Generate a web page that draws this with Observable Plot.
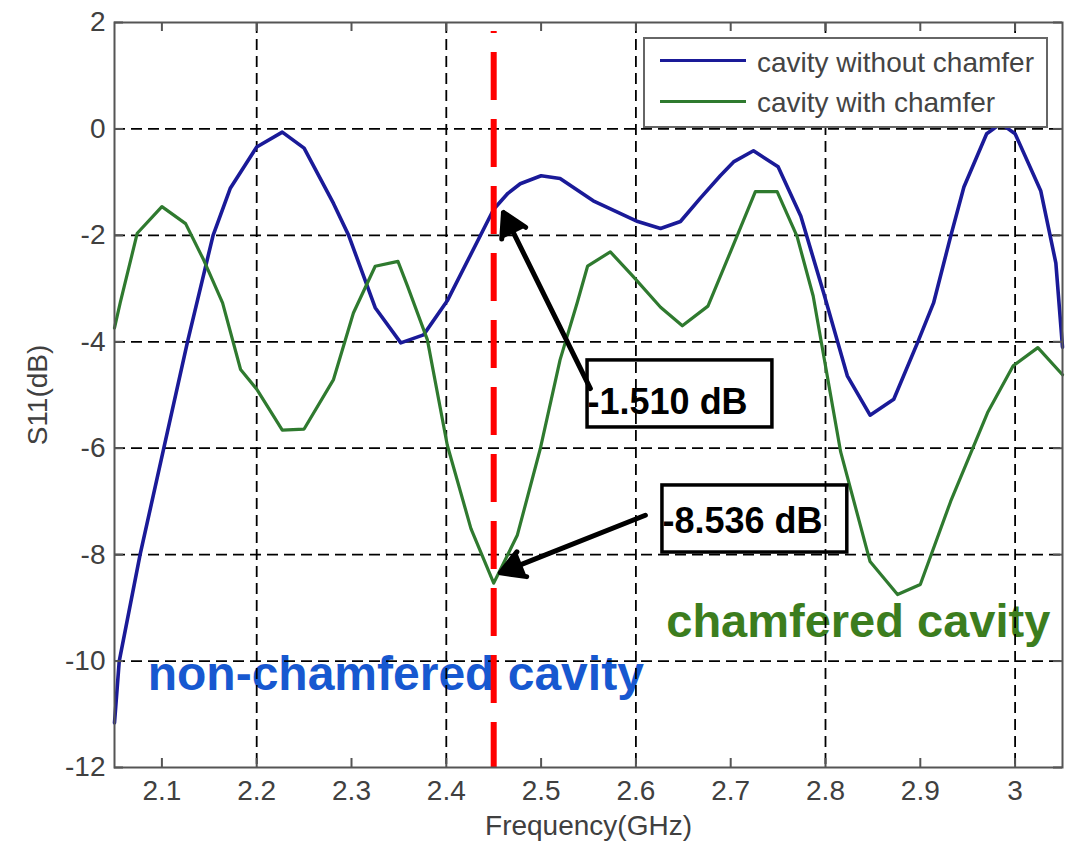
<!DOCTYPE html>
<html>
<head>
<meta charset="utf-8">
<script src="https://cdn.jsdelivr.net/npm/d3@7"></script>
<script src="https://cdn.jsdelivr.net/npm/@observablehq/plot@0.6"></script>
<style>
  body { margin: 0; background: #fff; }
  #wrap { position: relative; width: 1073px; height: 845px; }
  #legend { position: absolute; left: 643px; top: 37px; width: 401px; height: 87px;
    border: 2px solid #666; background: #fff;
    font-family: "Liberation Sans", Arial, sans-serif; font-size: 28px; color: #444; }
  #legend .sw { position: absolute; left: 15px; width: 86px; height: 3px; }
  #legend .lb { position: absolute; left: 112px; line-height: 28px; white-space: nowrap; }
</style>
</head>
<body>
<div id="wrap"></div>
<script>
// ---- data ----
const freqBlue = [2.050, 2.055, 2.077, 2.102, 2.127, 2.154, 2.172, 2.200, 2.227, 2.250, 2.281, 2.297, 2.325, 2.352, 2.376, 2.401, 2.450, 2.465, 2.478, 2.500, 2.520, 2.555, 2.602, 2.626, 2.647, 2.668, 2.689, 2.703, 2.724, 2.750, 2.774, 2.798, 2.823, 2.847, 2.872, 2.897, 2.914, 2.932, 2.946, 2.970, 2.985, 3.000, 3.027, 3.043, 3.050];
const s11Blue  = [-11.16, -10.0, -8.0, -6.0, -4.0, -2.0, -1.12, -0.34, -0.06, -0.36, -1.40, -2.00, -3.36, -4.02, -3.87, -3.23, -1.51, -1.21, -1.03, -0.88, -0.93, -1.35, -1.74, -1.87, -1.74, -1.30, -0.88, -0.62, -0.41, -0.71, -1.64, -3.08, -4.64, -5.38, -5.08, -4.02, -3.27, -2.02, -1.09, -0.09, 0.10, -0.09, -1.16, -2.52, -4.10];

const freqGreen = [2.050, 2.056, 2.074, 2.100, 2.125, 2.144, 2.164, 2.183, 2.200, 2.227, 2.250, 2.281, 2.302, 2.325, 2.349, 2.359, 2.380, 2.401, 2.426, 2.450, 2.475, 2.499, 2.520, 2.538, 2.549, 2.573, 2.597, 2.626, 2.649, 2.676, 2.700, 2.726, 2.749, 2.770, 2.787, 2.816, 2.847, 2.876, 2.900, 2.932, 2.971, 2.998, 3.024, 3.050];
const s11Green  = [-3.74, -3.27, -1.96, -1.46, -1.78, -2.46, -3.27, -4.52, -4.89, -5.66, -5.64, -4.71, -3.46, -2.58, -2.49, -2.95, -3.96, -5.94, -7.51, -8.536, -7.63, -6.02, -4.34, -3.27, -2.58, -2.31, -2.77, -3.35, -3.70, -3.33, -2.30, -1.18, -1.18, -2.02, -3.14, -6.07, -8.13, -8.75, -8.56, -7.00, -5.33, -4.45, -4.11, -4.62];

const seriesNames = ["cavity without chamfer", "cavity with chamfer"];
const seriesColors = ["#1a1a98", "#2f7a2f"];

const xTicks = [2.1, 2.2, 2.3, 2.4, 2.5, 2.6, 2.7, 2.8, 2.9, 3.0];
const yTicks = [2, 0, -2, -4, -6, -8, -10, -12];
const xGrid = [2.2, 2.4, 2.6, 2.8, 3.0];
const yGrid = [0, -2, -4, -6, -8, -10];
const markerFreq = [2.45];

// annotation callouts
const calloutText = ["-1.510 dB", "-8.536 dB"];
const calloutBoxF1 = [2.549, 2.628];
const calloutBoxF2 = [2.744, 2.823];
const calloutBoxV1 = [-4.35, -6.70];
const calloutBoxV2 = [-5.61, -7.96];
const calloutTextV = [-5.14, -7.38];
const arrowTailF = [2.552, 2.610];
const arrowTailV = [-4.88, -7.26];
const arrowTipF  = [2.4603, 2.457];
const arrowTipV  = [-1.57, -8.34];

const regionText = ["non-chamfered cavity", "chamfered cavity"];
const regionTextF = [2.085, 2.632];
const regionTextV = [-10.26, -9.26];
const regionColors = ["#1758d0", "#3c7d1e"];
const regionSizes = [48, 47];

// ---- build ----
const blue = freqBlue.map((f, i) => ({f, v: s11Blue[i]}));
const green = freqGreen.map((f, i) => ({f, v: s11Green[i]}));
const callouts = calloutText.map((t, i) => ({t, f1: calloutBoxF1[i], f2: calloutBoxF2[i], v1: calloutBoxV1[i], v2: calloutBoxV2[i], tv: calloutTextV[i], af1: arrowTailF[i], av1: arrowTailV[i], af2: arrowTipF[i], av2: arrowTipV[i]}));
const regions = regionText.map((t, i) => ({t, f: regionTextF[i], v: regionTextV[i], c: regionColors[i], s: regionSizes[i]}));

const W = 1073, H = 845, ml = 114, mr = 11, mt = 22, mb = 78;
const fw = W - ml - mr, fh = H - mt - mb;
const tick = 9;
const font = "Liberation Sans, Arial, Helvetica, sans-serif";
const fmtX = d => d === 3 ? "3" : d.toFixed(1);

const chart = Plot.plot({
  width: W, height: H,
  marginLeft: ml, marginRight: mr, marginTop: mt, marginBottom: mb,
  style: {fontFamily: font, fontSize: "28px", color: "#404040", background: "white", overflow: "visible"},
  x: {domain: [2.05, 3.05]},
  y: {domain: [-12, 2]},
  marks: [
    Plot.text(regions, {x: "f", y: "v", text: "t", fill: "c", fontSize: "s", textAnchor: "start", lineAnchor: "middle", fontWeight: "bold", fontFamily: font}),
    Plot.ruleX(xGrid, {stroke: "black", strokeWidth: 1.8, strokeDasharray: "11,6"}),
    Plot.ruleY(yGrid, {stroke: "black", strokeWidth: 1.8, strokeDasharray: "11,6"}),
    Plot.line(blue, {x: "f", y: "v", stroke: seriesColors[0], strokeWidth: 3.6}),
    Plot.line(green, {x: "f", y: "v", stroke: seriesColors[1], strokeWidth: 3.2}),
    Plot.ruleX(markerFreq, {stroke: "#ff0000", strokeWidth: 6, strokeDasharray: "48,19", strokeDashoffset: 46, insetTop: 9}),
    Plot.rect(callouts, {x1: "f1", x2: "f2", y1: "v1", y2: "v2", fill: "none", stroke: "black", strokeWidth: 3.5}),
    Plot.text(callouts, {x: "f1", y: "tv", text: "t", textAnchor: "start", lineAnchor: "middle", fontSize: 36, fontWeight: "bold", fill: "black", fontFamily: font}),
    Plot.arrow(callouts, {x1: "af1", y1: "av1", x2: "af2", y2: "av2", stroke: "black", fill: "black", strokeWidth: 5, headLength: 8, headAngle: 60}),
    Plot.frame({stroke: "#555", strokeWidth: 2}),
    Plot.ruleX(xTicks, {stroke: "#555", strokeWidth: 2, insetTop: fh - tick}),
    Plot.ruleX(xTicks, {stroke: "#555", strokeWidth: 2, insetBottom: fh - tick}),
    Plot.ruleY(yTicks, {stroke: "#555", strokeWidth: 2, insetRight: fw - tick}),
    Plot.ruleY(yTicks, {stroke: "#555", strokeWidth: 2, insetLeft: fw - tick}),
    Plot.axisX({ticks: xTicks, tickSize: 0, tickPadding: 13, tickFormat: fmtX, label: null, fill: "#404040"}),
    Plot.axisY({ticks: yTicks, tickSize: 0, tickPadding: 9, tickFormat: d => String(d), label: null, fill: "#404040"}),
    Plot.text(["Frequency(GHz)"], {frameAnchor: "bottom", dy: 59, text: d => d, textAnchor: "middle", lineAnchor: "middle", fill: "#404040", fontSize: 28}),
    Plot.text(["S11(dB)"], {frameAnchor: "left", dx: -76, rotate: -90, text: d => d, textAnchor: "middle", lineAnchor: "middle", fill: "#404040", fontSize: 28})
  ]
});

const wrap = document.getElementById("wrap");
wrap.appendChild(chart);

// legend (inside the axes, top right)
const legend = document.createElement("div");
legend.id = "legend";
const rowTop = [21, 62];
const textTop = [10, 50];
seriesNames.forEach((name, i) => {
  const sw = document.createElement("div");
  sw.className = "sw";
  sw.style.top = (rowTop[i] - 1) + "px";
  sw.style.background = seriesColors[i];
  legend.appendChild(sw);
  const lb = document.createElement("div");
  lb.className = "lb";
  lb.style.top = textTop[i] + "px";
  lb.textContent = name;
  legend.appendChild(lb);
});
wrap.appendChild(legend);
</script>
</body>
</html>
